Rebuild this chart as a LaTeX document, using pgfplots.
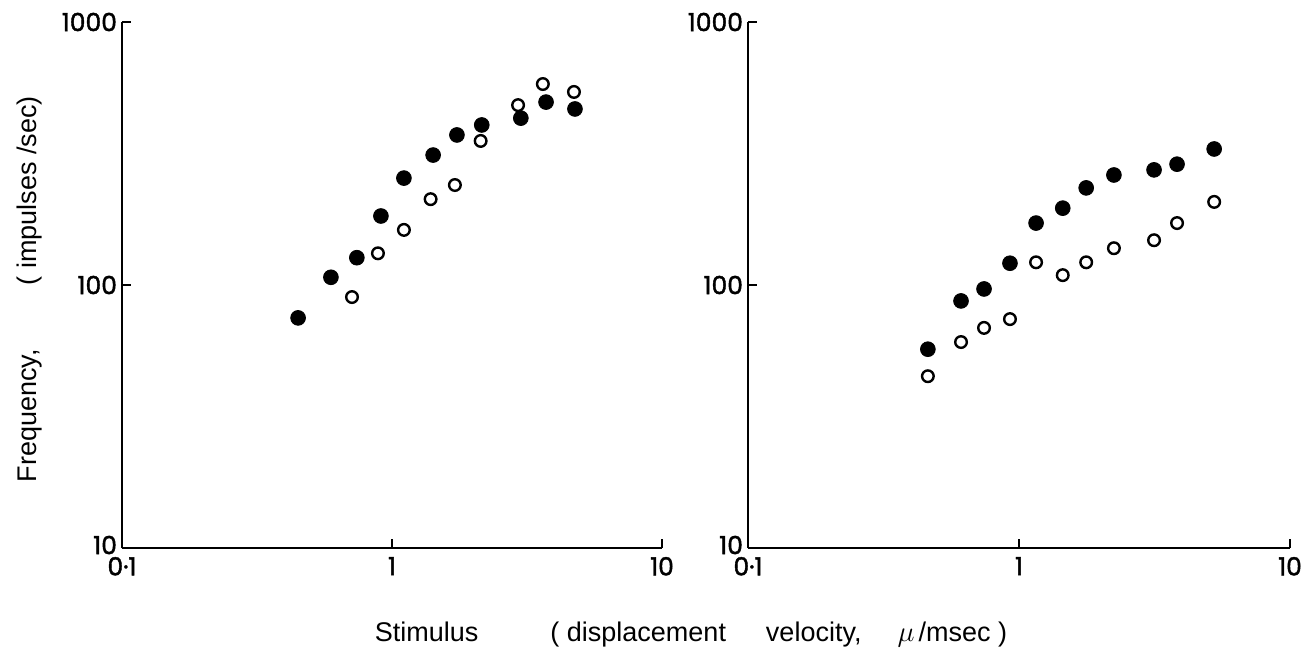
\documentclass[border=0pt]{standalone}
\usepackage{pgfplots}
\pgfplotsset{compat=1.18}
\usepackage{fontspec}
\setmainfont{Liberation Sans}
\newfontfamily\tickfont[FakeBold=1.6]{Poppins}

\pgfplotstableread{
x y
0.449 75
0.594 107
0.741 127
0.910 183
1.107 255
1.42 312
1.74 372
2.15 406
3.00 431
3.72 496
4.76 467
}\leftfilled
\pgfplotstableread{
x y
0.711 90
0.887 132
1.107 162
1.39 212
1.71 240
2.13 353
2.93 483
3.62 581
4.72 542
}\leftopen
\pgfplotstableread{
x y
0.461 57
0.611 87
0.743 96.6
0.926 121
1.156 172
1.45 196
1.77 234
2.24 262
3.15 274
3.83 288
5.25 329
}\rightfilled
\pgfplotstableread{
x y
0.461 45
0.611 60.7
0.743 68.7
0.926 74.2
1.156 122
1.45 109
1.77 122
2.24 138
3.15 148
3.83 172
5.25 207
}\rightopen

\pgfplotsset{
  every axis/.append style={
    scale only axis, height=263pt,
    xmode=log, ymode=log, xmin=0.1, xmax=10, ymin=10, ymax=1000,
    axis x line=bottom, axis y line=left,
    axis line style={-, line width=1pt},
    xtick={0.1,1,10}, xticklabels={0·1,1,10},
    ytick={10,100,1000}, yticklabels={\raisebox{3pt}{10},100,1000},
    tick align=inside, major tick length=4.5pt, minor tick length=0pt,
    tick style={line width=1pt, black},
    ticklabel style={font=\tickfont\fontsize{12.5}{14}\selectfont},
    yticklabel style={xshift=1pt},
    xticklabel style={yshift=-1pt},
    clip=false,
  },
}

\begin{document}
\begin{tikzpicture}
\useasboundingbox (0pt,0pt) rectangle (657.5pt,330.5pt);
\begin{axis}[width=270pt, at={(61pt,56.5pt)}, anchor=south west]
\addplot[only marks, mark=*, mark size=3.7pt, mark options={fill=black, draw=black}] table[x=x,y=y] {\leftfilled};
\addplot[only marks, mark=o, mark size=2.9pt, mark options={draw=black, line width=1.2pt, fill=white}] table[x=x,y=y] {\leftopen};
\end{axis}
\begin{axis}[width=271pt, at={(374pt,56.5pt)}, anchor=south west]
\addplot[only marks, mark=*, mark size=3.7pt, mark options={fill=black, draw=black}] table[x=x,y=y] {\rightfilled};
\addplot[only marks, mark=o, mark size=2.9pt, mark options={draw=black, line width=1.2pt, fill=white}] table[x=x,y=y] {\rightopen};
\end{axis}
\node[font=\fontsize{13.5}{16}\selectfont] at (345.5pt,13pt) {Stimulus\hspace{36pt}( displacement\hspace{20pt}velocity,\hspace{18pt}$\mu$\hspace{2pt}/msec )};
\node[rotate=90, font=\fontsize{13.5}{16}\selectfont] at (14.75pt,186pt) {Frequency,\hspace{32pt}( impulses /sec)};
\end{tikzpicture}
\end{document}
